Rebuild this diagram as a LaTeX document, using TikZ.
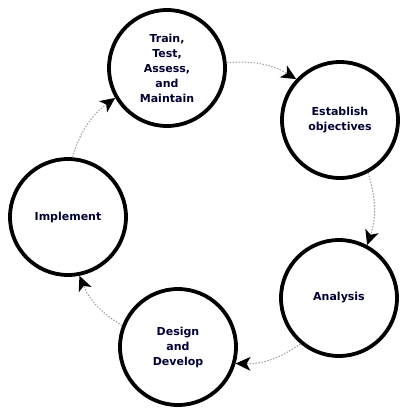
\documentclass[tikz,border=0pt]{standalone}
\usepackage{fontspec}
\setmainfont{DejaVu Sans}
\usetikzlibrary{arrows.meta}
\begin{document}
\begin{tikzpicture}[x=1pt,y=-1pt,
  stage/.style={circle,draw=black,line width=3.8pt,minimum size=116pt,inner sep=0pt,
    align=center,font=\fontsize{11}{15}\selectfont\bfseries,text=black!80!blue},
  flow/.style={draw=gray!75,line width=1pt,dash pattern=on 1.5pt off 1.5pt,
    -{Stealth[length=15pt,width=14pt,inset=4pt,color=black,line width=0pt]},bend left=18}]
\useasboundingbox (0,0) rectangle (401,408);
\node[stage] (train) at (167,68) {Train,\\Test,\\Assess,\\and\\Maintain};
\node[stage] (estab) at (340,120) {Establish\\objectives};
\node[stage] (anal) at (339,298) {Analysis};
\node[stage] (design) at (178,347) {Design\\and\\Develop};
\node[stage] (impl) at (68,217) {Implement};
\draw[flow] (train.5) to (estab.137);
\draw[flow] (estab.-62) to (anal.62);
\draw[flow] (anal.-130) to (design.-16);
\draw[flow] (design.159) to (impl.-79);
\draw[flow] (impl.86) to (train.210);
\end{tikzpicture}
\end{document}
